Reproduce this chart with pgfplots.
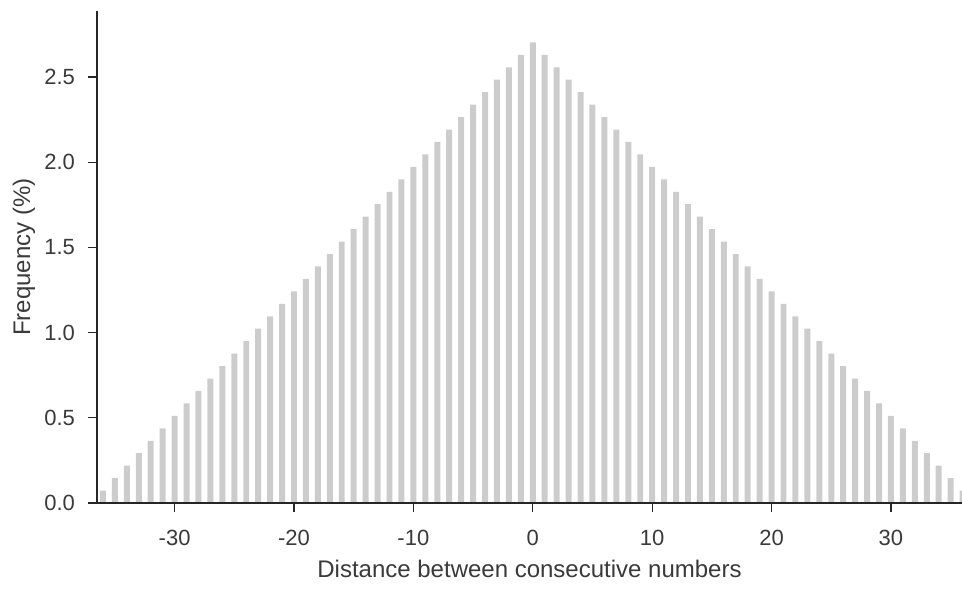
\documentclass[border=0pt]{standalone}
\usepackage{fontspec}
\setmainfont{Liberation Sans}
\usepackage{pgfplots}
\pgfplotsset{compat=1.18}
\definecolor{bargray}{HTML}{CCCCCC}
\definecolor{txt}{HTML}{3A3A3A}
\definecolor{axc}{HTML}{262626}
\begin{document}
\begin{tikzpicture}
\useasboundingbox (-97pt,-89pt) rectangle (865pt,503pt);
\begin{axis}[
  at={(0,0)}, anchor=south west,
  scale only axis, width=865pt, height=492pt,
  xmin=-36.5, xmax=35.95, ymin=0, ymax=2.887,
  axis x line*=bottom, axis y line*=left,
  axis on top,
  axis line style={color=axc, line width=1.3pt},
  every tick/.style={color=axc, line width=1.3pt},
  tick align=outside, major tick length=8.5pt,
  xtick={-30,-20,...,30}, ytick={0,0.5,...,2.5},
  yticklabel={\pgfmathprintnumber[fixed,fixed zerofill,precision=1]{\tick}},
  /pgf/number format/assume math mode=true,
  ticklabel style={font=\fontsize{22}{26}\selectfont, text=txt},
  xticklabel style={yshift=-15pt},
  yticklabel style={xshift=-10pt},
  label style={font=\fontsize{24}{28}\selectfont, text=txt},
  xlabel={Distance between consecutive numbers},
  ylabel={Frequency (\%)},
  xlabel style={at={(axis description cs:0.5,-0.134)}, anchor=center},
  ylabel style={at={(axis description cs:-0.0844,0.5)}, anchor=center},
  ybar, bar width=0.5, bar shift=0pt,
  clip=true,
]
\addplot[fill=bargray, draw=none] coordinates {
(-36,0.0730) (-35,0.1461) (-34,0.2191) (-33,0.2922) (-32,0.3652) (-31,0.4383)
(-30,0.5113) (-29,0.5844) (-28,0.6574) (-27,0.7305) (-26,0.8035) (-25,0.8766)
(-24,0.9496) (-23,1.0227) (-22,1.0957) (-21,1.1687) (-20,1.2418) (-19,1.3148)
(-18,1.3879) (-17,1.4609) (-16,1.5340) (-15,1.6070) (-14,1.6801) (-13,1.7531)
(-12,1.8262) (-11,1.8992) (-10,1.9723) (-9,2.0453) (-8,2.1183) (-7,2.1914)
(-6,2.2644) (-5,2.3375) (-4,2.4105) (-3,2.4836) (-2,2.5566) (-1,2.6297)
(0,2.7027)
(1,2.6297) (2,2.5566) (3,2.4836) (4,2.4105) (5,2.3375) (6,2.2644)
(7,2.1914) (8,2.1183) (9,2.0453) (10,1.9723) (11,1.8992) (12,1.8262)
(13,1.7531) (14,1.6801) (15,1.6070) (16,1.5340) (17,1.4609) (18,1.3879)
(19,1.3148) (20,1.2418) (21,1.1687) (22,1.0957) (23,1.0227) (24,0.9496)
(25,0.8766) (26,0.8035) (27,0.7305) (28,0.6574) (29,0.5844) (30,0.5113)
(31,0.4383) (32,0.3652) (33,0.2922) (34,0.2191) (35,0.1461) (36,0.0730)
};
\end{axis}
\end{tikzpicture}
\end{document}
